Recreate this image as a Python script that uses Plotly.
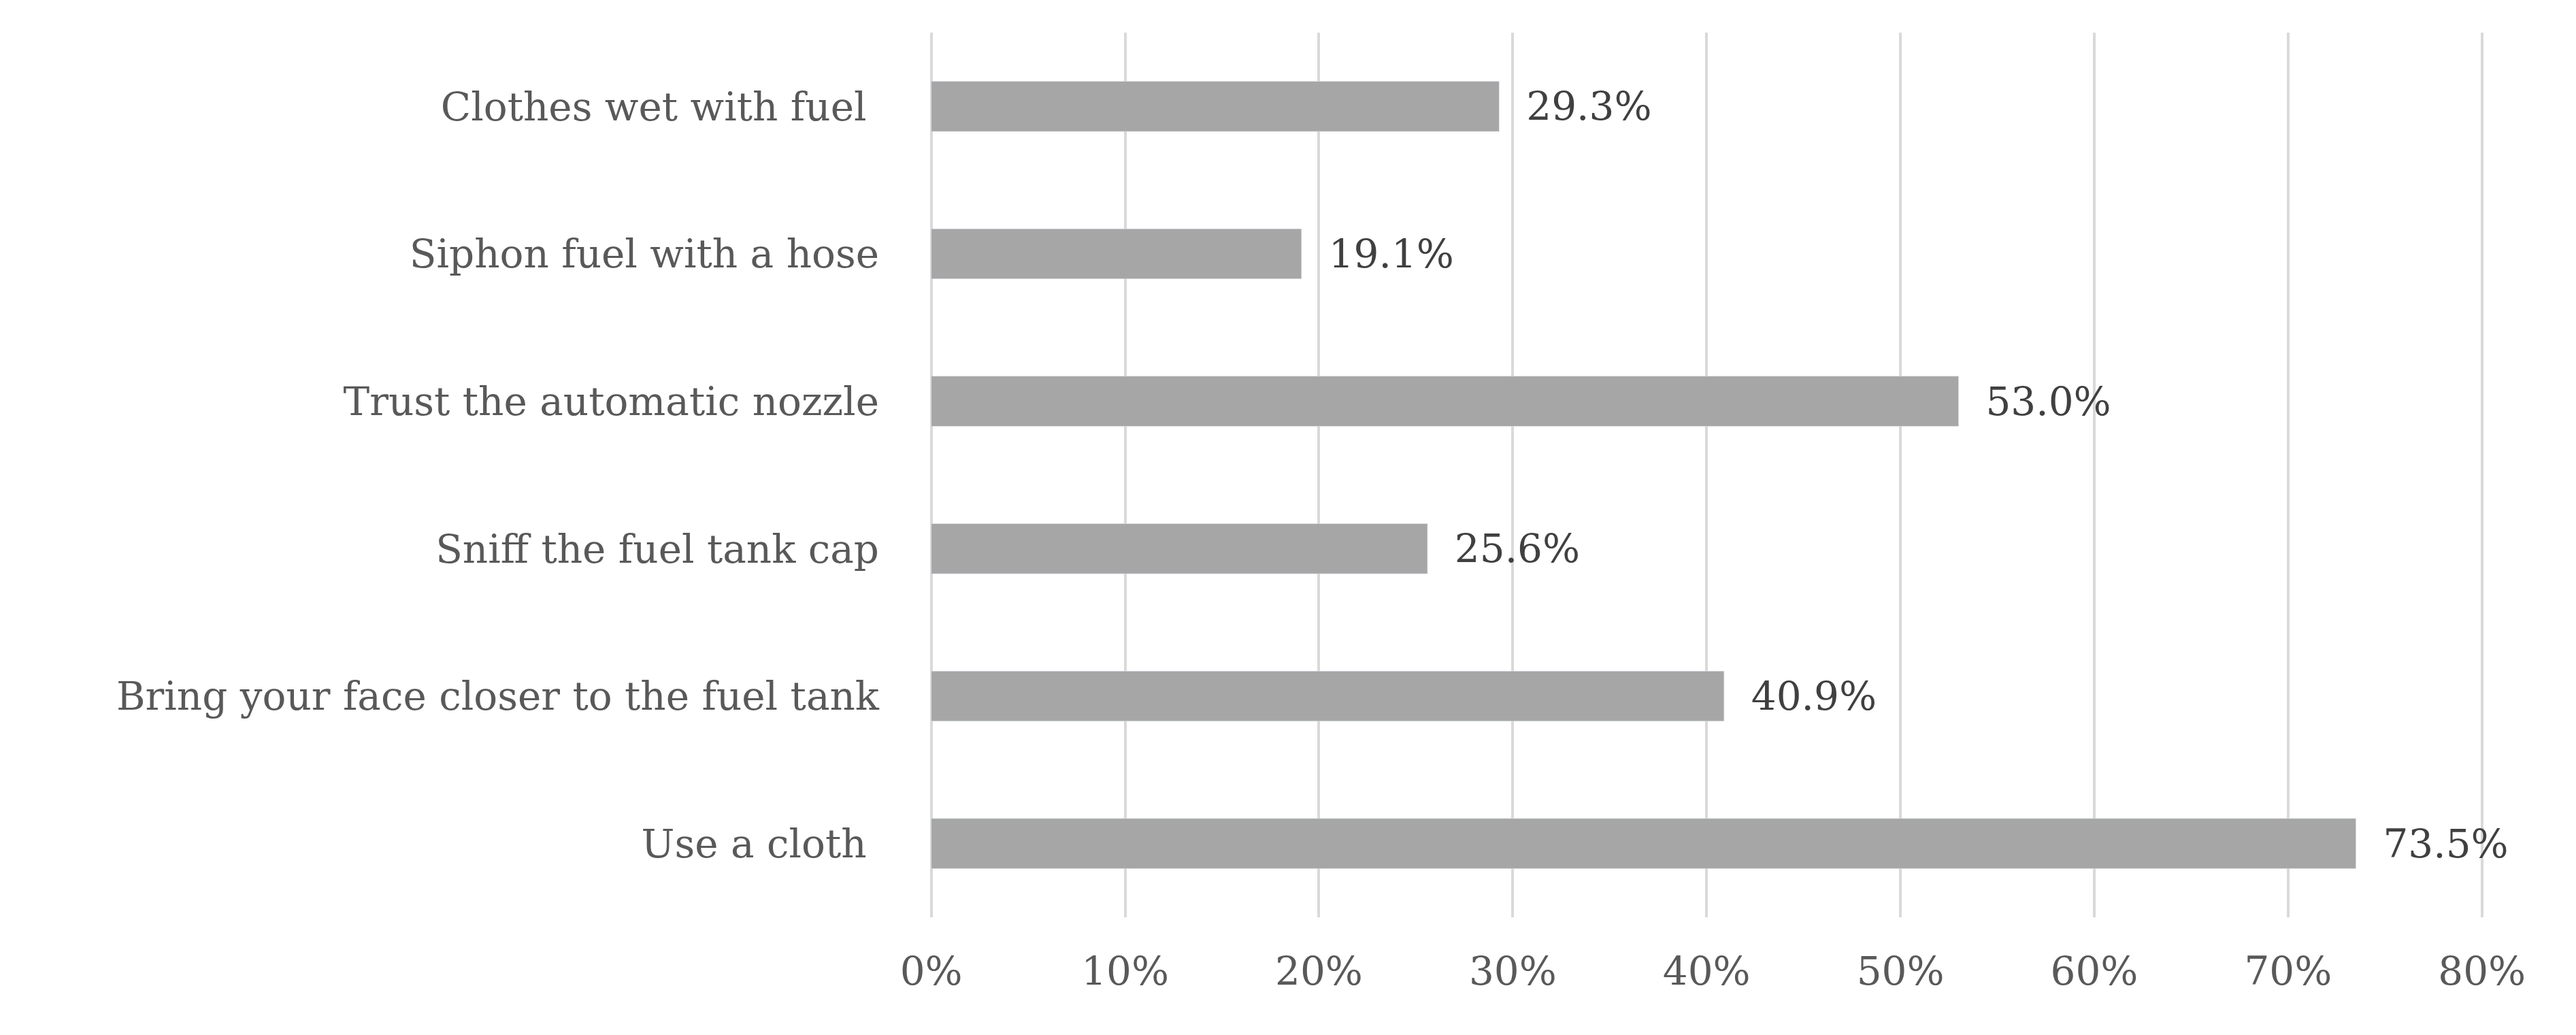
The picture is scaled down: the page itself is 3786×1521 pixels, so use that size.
import plotly.graph_objects as go

categories = ["Use a cloth ", "Bring your face closer to the fuel tank", "Sniff the fuel tank cap",
              "Trust the automatic nozzle", "Siphon fuel with a hose", "Clothes wet with fuel "]
values = [73.5, 40.9, 25.6, 53.0, 19.1, 29.3]
tick_vals = [0, 10, 20, 30, 40, 50, 60, 70, 80]
tick_text = [f"{v}%" for v in tick_vals]

font_family = "DejaVu Serif, Liberation Serif, serif"

fig = go.Figure(go.Bar(
    x=values, y=categories, orientation="h",
    marker_color="#a6a6a6", width=0.34,
    text=[f"  {v:.1f}%" for v in values], textposition="outside",
    textfont=dict(size=58, color="#404040"), cliponaxis=False,
))

fig.update_layout(
    width=3786, height=1521,
    margin=dict(l=1355, r=132, t=40, b=181),
    plot_bgcolor="white", paper_bgcolor="white",
    font=dict(family=font_family, size=58, color="#595959"),
    showlegend=False,
)
fig.update_xaxes(range=[-0.2, 80.5], tickvals=tick_vals, ticktext=tick_text,
                 showgrid=True, gridcolor="#d9d9d9", gridwidth=4, zeroline=False,
                 ticklabelstandoff=40, tickfont=dict(size=58, color="#595959"))
fig.update_yaxes(showgrid=False, ticklabelstandoff=70,
                 tickfont=dict(size=58, color="#595959"))

fig.write_html("out.html")
